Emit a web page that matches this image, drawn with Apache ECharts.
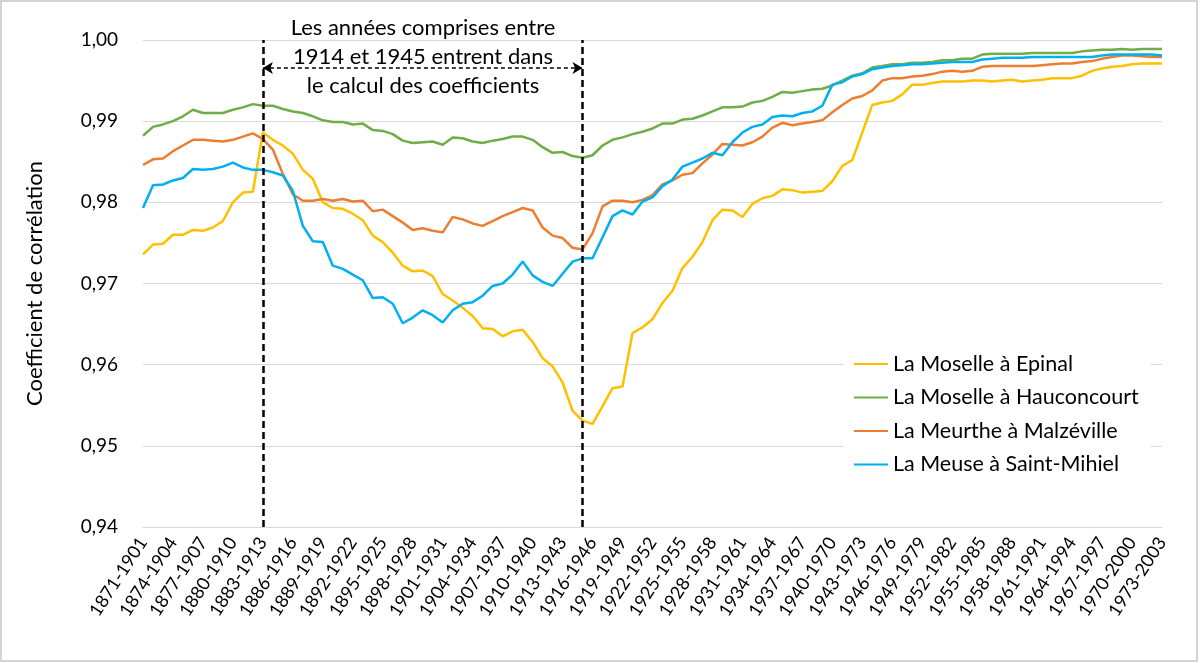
<!DOCTYPE html>
<html>
<head>
<meta charset="utf-8">
<script src="https://cdn.jsdelivr.net/npm/echarts@6/dist/echarts.min.js"></script>
<style>
html,body{margin:0;padding:0;background:#fff;}
#c{width:1200px;height:663px;}
</style>
</head>
<body>
<div id="c"></div>
<script>
const categories = [
"1871-1901","1872-1902","1873-1903","1874-1904","1875-1905","1876-1906","1877-1907","1878-1908","1879-1909","1880-1910",
"1881-1911","1882-1912","1883-1913","1884-1914","1885-1915","1886-1916","1887-1917","1888-1918","1889-1919","1890-1920",
"1891-1921","1892-1922","1893-1923","1894-1924","1895-1925","1896-1926","1897-1927","1898-1928","1899-1929","1900-1930",
"1901-1931","1902-1932","1903-1933","1904-1934","1905-1935","1906-1936","1907-1937","1908-1938","1909-1939","1910-1940",
"1911-1941","1912-1942","1913-1943","1914-1944","1915-1945","1916-1946","1917-1947","1918-1948","1919-1949","1920-1950",
"1921-1951","1922-1952","1923-1953","1924-1954","1925-1955","1926-1956","1927-1957","1928-1958","1929-1959","1930-1960",
"1931-1961","1932-1962","1933-1963","1934-1964","1935-1965","1936-1966","1937-1967","1938-1968","1939-1969","1940-1970",
"1941-1971","1942-1972","1943-1973","1944-1974","1945-1975","1946-1976","1947-1977","1948-1978","1949-1979","1950-1980",
"1951-1981","1952-1982","1953-1983","1954-1984","1955-1985","1956-1986","1957-1987","1958-1988","1959-1989","1960-1990",
"1961-1991","1962-1992","1963-1993","1964-1994","1965-1995","1966-1996","1967-1997","1968-1998","1969-1999","1970-2000",
"1971-2001","1972-2002","1973-2003"
];

const epinal = [
0.9736,0.9748,0.9749,0.9760,0.9760,0.9766,0.9765,0.9769,0.9777,0.9800,
0.9812,0.9813,0.9886,0.9877,0.9870,0.9860,0.9840,0.9829,0.9800,0.9793,
0.9792,0.9786,0.9778,0.9759,0.9751,0.9738,0.9722,0.9715,0.9716,0.9709,
0.9687,0.9679,0.9670,0.9660,0.9645,0.9644,0.9635,0.9641,0.9643,0.9628,
0.9608,0.9598,0.9578,0.9543,0.9531,0.9527,0.9549,0.9571,0.9573,0.9639,
0.9646,0.9656,0.9676,0.9691,0.9719,0.9733,0.9751,0.9778,0.9791,0.9790,
0.9782,0.9798,0.9805,0.9808,0.9816,0.9815,0.9812,0.9813,0.9814,0.9826,
0.9845,0.9852,0.9886,0.9920,0.9923,0.9925,0.9933,0.9945,0.9945,0.9947,
0.9949,0.9949,0.9949,0.9950,0.9950,0.9949,0.9950,0.9951,0.9949,0.9950,
0.9951,0.9953,0.9953,0.9953,0.9956,0.9962,0.9965,0.9967,0.9968,0.9970,
0.9971,0.9971,0.9971
];

const hauconcourt = [
0.9882,0.9893,0.9896,0.9900,0.9906,0.9914,0.9910,0.9910,0.9910,0.9914,
0.9917,0.9921,0.9919,0.9919,0.9915,0.9912,0.9910,0.9906,0.9901,0.9899,
0.9899,0.9896,0.9897,0.9889,0.9888,0.9884,0.9876,0.9873,0.9874,0.9875,
0.9871,0.9880,0.9879,0.9875,0.9873,0.9876,0.9878,0.9881,0.9881,0.9877,
0.9868,0.9861,0.9862,0.9857,0.9855,0.9858,0.9870,0.9877,0.9880,0.9884,
0.9887,0.9891,0.9897,0.9897,0.9902,0.9903,0.9907,0.9912,0.9917,0.9917,
0.9918,0.9923,0.9925,0.9930,0.9936,0.9935,0.9937,0.9939,0.9940,0.9944,
0.9950,0.9956,0.9959,0.9966,0.9968,0.9970,0.9970,0.9972,0.9972,0.9973,
0.9975,0.9975,0.9977,0.9977,0.9982,0.9983,0.9983,0.9983,0.9983,0.9984,
0.9984,0.9984,0.9984,0.9984,0.9986,0.9987,0.9988,0.9988,0.9989,0.9988,
0.9989,0.9989,0.9989
];

const malzeville = [
0.9846,0.9853,0.9854,0.9863,0.9870,0.9877,0.9877,0.9876,0.9875,0.9877,
0.9881,0.9885,0.9878,0.9865,0.9835,0.9810,0.9802,0.9802,0.9804,0.9802,
0.9804,0.9801,0.9802,0.9789,0.9791,0.9783,0.9775,0.9766,0.9768,0.9765,
0.9763,0.9782,0.9779,0.9774,0.9771,0.9777,0.9783,0.9788,0.9793,0.9790,
0.9769,0.9759,0.9756,0.9744,0.9742,0.9762,0.9795,0.9802,0.9802,0.9800,
0.9803,0.9809,0.9822,0.9827,0.9834,0.9836,0.9848,0.9859,0.9872,0.9871,
0.9870,0.9874,0.9881,0.9892,0.9898,0.9895,0.9897,0.9899,0.9901,0.9911,
0.9920,0.9928,0.9931,0.9938,0.9950,0.9953,0.9953,0.9955,0.9956,0.9958,
0.9961,0.9962,0.9961,0.9962,0.9967,0.9968,0.9968,0.9968,0.9968,0.9968,
0.9969,0.9970,0.9971,0.9971,0.9973,0.9974,0.9977,0.9979,0.9981,0.9981,
0.9980,0.9979,0.9979
];

const stmihiel = [
0.9793,0.9821,0.9822,0.9827,0.9830,0.9841,0.9840,0.9841,0.9844,0.9849,
0.9843,0.9840,0.9840,0.9837,0.9833,0.9814,0.9771,0.9752,0.9751,0.9722,
0.9718,0.9711,0.9704,0.9682,0.9683,0.9675,0.9651,0.9658,0.9667,0.9661,
0.9652,0.9667,0.9675,0.9677,0.9685,0.9697,0.9700,0.9711,0.9727,0.9710,
0.9702,0.9697,0.9712,0.9727,0.9731,0.9731,0.9757,0.9783,0.9790,0.9785,
0.9801,0.9806,0.9820,0.9828,0.9844,0.9849,0.9854,0.9861,0.9858,0.9874,
0.9886,0.9893,0.9896,0.9905,0.9907,0.9906,0.9910,0.9912,0.9919,0.9945,
0.9948,0.9955,0.9958,0.9964,0.9966,0.9968,0.9969,0.9970,0.9970,0.9971,
0.9972,0.9973,0.9973,0.9973,0.9976,0.9977,0.9978,0.9978,0.9978,0.9979,
0.9979,0.9979,0.9979,0.9979,0.9979,0.9979,0.9981,0.9982,0.9982,0.9982,
0.9982,0.9982,0.9981
];

const seriesNames = ["La Moselle à Epinal","La Moselle à Hauconcourt","La Meurthe à Malzéville","La Meuse à Saint-Mihiel"];
const seriesColors = ["#FFC000","#70AD47","#ED7D31","#00B0F0"];
const periodBounds = ["1883-1913","1915-1945"];
const arrowLevel = 0.99655;
const noteLines = ["Les années comprises entre","1914 et 1945 entrent dans","le calcul des coefficients"];

const FONT = "Lato, 'Noto Sans', sans-serif";
const chart = echarts.init(document.getElementById('c'), null, {renderer:'canvas'});

function lineSeries(name, data, color, extra) {
  return Object.assign({
    name: name, type: 'line', data: data, symbol: 'none', showSymbol: false,
    lineStyle: {color: color, width: 2.5}, itemStyle: {color: color},
    emphasis: {disabled: true}, animation: false
  }, extra || {});
}

const option = {
  animation: false,
  backgroundColor: '#ffffff',
  textStyle: {fontFamily: FONT, color: '#000'},
  grid: {left: 143, right: 38, top: 40, bottom: 136, containLabel: false},
  xAxis: {
    type: 'category', data: categories, boundaryGap: false,
    axisLine: {lineStyle: {color: '#d9d9d9', width: 1}},
    axisTick: {show: false},
    axisLabel: {interval: 2, rotate: 57, color: '#000', fontSize: 18, margin: 12, fontFamily: FONT},
    splitLine: {show: false}
  },
  yAxis: {
    type: 'value', min: 0.94, max: 1.0, interval: 0.01,
    name: 'Coefficient de corrélation', nameLocation: 'middle', nameGap: 97,
    nameTextStyle: {fontSize: 22, color: '#000', fontFamily: FONT},
    axisLine: {show: false}, axisTick: {show: false},
    axisLabel: {formatter: v => v.toFixed(2).replace('.', ','), fontSize: 19, color: '#000', margin: 25, fontFamily: FONT},
    splitLine: {lineStyle: {color: '#d9d9d9', width: 1}}
  },
  legend: {
    orient: 'vertical', left: 843, top: 348,
    itemWidth: 34, itemHeight: 14, itemGap: 11.5,
    itemStyle: {opacity: 0},
    backgroundColor: '#ffffff', padding: [5, 12, 5, 10],
    textStyle: {fontSize: 21.5, color: '#000', fontFamily: FONT},
    data: seriesNames
  },
  graphic: [
    {type: 'rect', silent: true, z: 100, shape: {x: 1, y: 1, width: 1196, height: 660},
     style: {fill: 'none', stroke: '#c6c6c6', lineWidth: 1.5}},
    {type: 'text', silent: true, z: 100, x: 423, y: 13,
     style: {text: noteLines.join('\n'), fill: '#000', font: "22px " + FONT, align: 'center', verticalAlign: 'top', lineHeight: 29}}
  ],
  series: [
    lineSeries(seriesNames[0], epinal, seriesColors[0], {
      markLine: {
        silent: true, symbol: ['none', 'none'], animation: false,
        label: {show: false},
        lineStyle: {color: '#000', type: [7, 4], width: 2.5},
        data: periodBounds.map(b => ({xAxis: b}))
      }
    }),
    lineSeries(seriesNames[1], hauconcourt, seriesColors[1], {
      markLine: {
        silent: true, symbol: ['arrow', 'arrow'], symbolSize: [9, 10], animation: false,
        label: {show: false},
        lineStyle: {color: '#000', type: [4, 3], width: 1.5},
        data: [[{coord: [periodBounds[0], arrowLevel]}, {coord: [periodBounds[1], arrowLevel]}]]
      }
    }),
    lineSeries(seriesNames[2], malzeville, seriesColors[2]),
    lineSeries(seriesNames[3], stmihiel, seriesColors[3])
  ]
};
chart.setOption(option);
</script>
</body>
</html>
